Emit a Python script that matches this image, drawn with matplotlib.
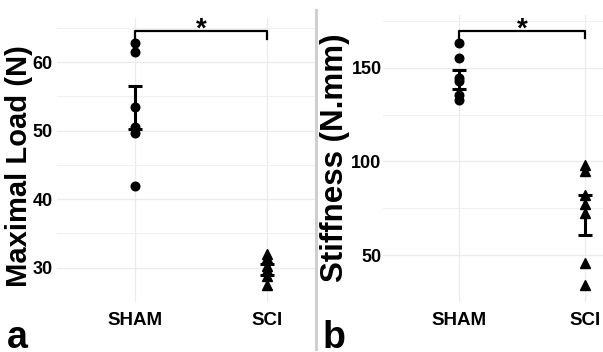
import matplotlib
matplotlib.use('Agg')
import matplotlib.pyplot as plt
from matplotlib.lines import Line2D
import numpy as np

# ---------------- data ----------------
groups = ['SHAM', 'SCI']

load_sham = [62.8, 61.5, 53.4, 50.5, 49.7, 41.9]
load_sci = [32.0, 31.4, 30.3, 29.6, 28.8, 27.5]
load_mean = [53.4, 29.75]
load_sem = [3.15, 0.85]
load_ticks = [30, 40, 50, 60]
load_sig_y = 64.6

stiff_sham = [163.5, 155.2, 144.8, 143.0, 135.6, 133.0]
stiff_sci = [98.0, 95.0, 82.0, 77.5, 72.5, 46.0, 34.0]
stiff_mean = [143.9, 71.3]
stiff_sem = [5.2, 10.6]
stiff_ticks = [50, 100, 150]
stiff_sig_y = 169.9

sig_label = '*'

# ---------------- figure ----------------
plt.rcParams['font.family'] = ['Liberation Sans', 'DejaVu Sans']

W, H = 603, 352
fig = plt.figure(figsize=(W / 100, H / 100), dpi=100)


def px_axes(l, t, r, b):
    return fig.add_axes([l / W, 1 - b / H, (r - l) / W, (b - t) / H])


def panel(ax, sham, sci, mean, sem, ticks, ylim, xlim, sig_y, tip, ylab_pad):
    ax.set_xlim(*xlim)
    ax.set_ylim(*ylim)
    ax.set_xticks([1, 2])
    ax.set_xticklabels(groups)
    ax.set_yticks(ticks)
    step = ticks[1] - ticks[0]
    minor = np.arange(ticks[0] - step / 2, ticks[-1] + step, step)
    ax.set_yticks(minor, minor=True)
    ax.grid(True, which='major', color='#ebebeb', lw=0.9)
    ax.grid(True, which='minor', color='#f0f0f0', lw=0.7)
    ax.set_axisbelow(True)
    for s in ax.spines.values():
        s.set_visible(False)
    ax.tick_params(axis='both', which='both', length=0, colors='black')
    ax.tick_params(axis='x', labelsize=13.5, pad=7)
    ax.tick_params(axis='y', labelsize=13, pad=ylab_pad)
    for lab in ax.get_xticklabels() + ax.get_yticklabels():
        lab.set_fontweight('bold')

    ax.errorbar([1, 2], mean, yerr=sem, fmt='none', ecolor='black',
                elinewidth=2.2, capsize=5, capthick=2.2, zorder=3)
    ax.plot([1] * len(sham), sham, 'o', ms=6.2, color='black', zorder=4)
    ax.plot([2] * len(sci), sci, '^', ms=7, color='black', zorder=4)

    ax.plot([1, 1, 2, 2], [sig_y - tip, sig_y, sig_y, sig_y - tip],
            color='black', lw=1.6, clip_on=False, zorder=5)
    ax.annotate(sig_label, xy=(1.5, sig_y), xytext=(0, -4.5),
                textcoords='offset points', ha='center', va='baseline',
                fontsize=20, fontweight='bold', annotation_clip=False)


axa = px_axes(57, 18, 315, 302)
axb = px_axes(383, 15, 603, 302)

panel(axa, load_sham, load_sci, load_mean, load_sem, load_ticks,
      (25.76, 66.45), (0.409, 2.364), load_sig_y, 1.15, 3)
panel(axb, stiff_sham, stiff_sci, stiff_mean, stiff_sem, stiff_ticks,
      (29.3, 178.2), (0.397, 2.143), stiff_sig_y, 4.15, 1)

fig.text(19 / W, 1 - 166 / H, 'Maximal Load (N)', rotation=90,
         ha='center', va='center', fontsize=21, fontweight='bold')
fig.text(335 / W, 1 - 158 / H, 'Stiffness (N.mm)', rotation=90,
         ha='center', va='center', fontsize=22.5, fontweight='bold')

fig.text(7 / W, 1 - 348 / H, 'a', ha='left', va='baseline',
         fontsize=27, fontweight='bold')
fig.text(323 / W, 1 - 348 / H, 'b', ha='left', va='baseline',
         fontsize=27, fontweight='bold')

fig.add_artist(Line2D([316 / W, 316 / W], [1 - 349 / H, 1 - 10 / H],
                      transform=fig.transFigure, color='#cfcfcf', lw=2.2))

fig.savefig('out.png', dpi=100)
